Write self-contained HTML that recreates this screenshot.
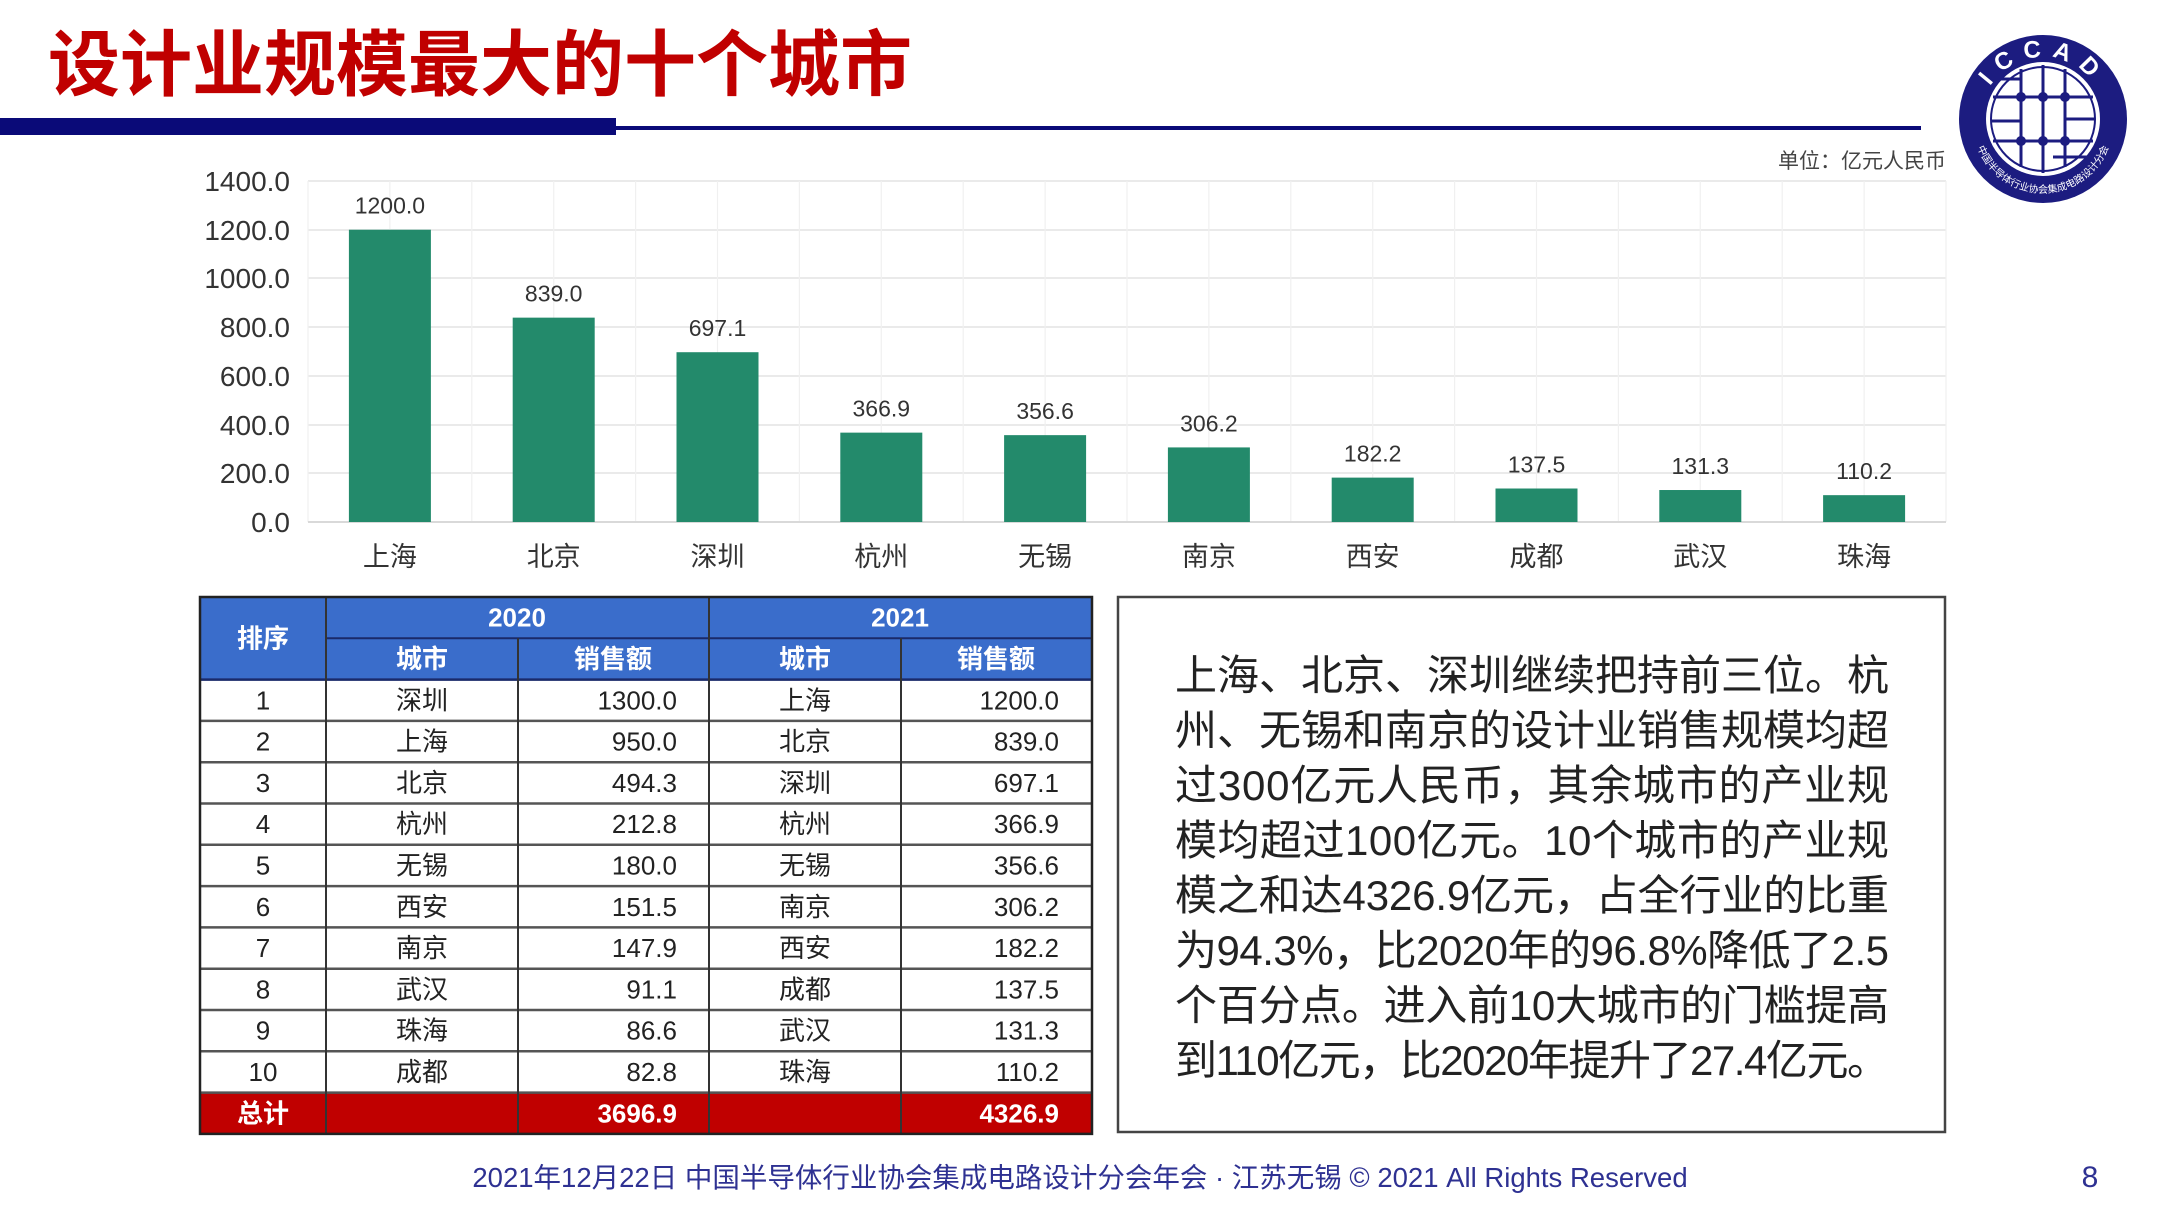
<!DOCTYPE html>
<html><head><meta charset="utf-8"><style>
html,body{margin:0;padding:0;background:#fff;}
svg{display:block;}
text{font-family:"Liberation Sans","Noto Sans CJK SC",sans-serif;}
</style></head><body>
<svg width="2160" height="1216" viewBox="0 0 2160 1216" xmlns="http://www.w3.org/2000/svg">
<text x="48" y="90" font-size="72" font-weight="bold" fill="#c00000" font-family="Noto Sans CJK SC,sans-serif">设计业规模最大的十个城市</text>
<rect x="0" y="118" width="616" height="17" fill="#0a0a78"/>
<rect x="616" y="126" width="1305" height="4" fill="#0a0a78"/>
<g transform="translate(2043,119)">
<circle r="84" fill="#1c1c80"/>
<circle r="57" fill="#fff"/>
<circle r="52" fill="none" stroke="#1c1c80" stroke-width="2"/>
<defs><path id="arcTop" d="M -62 0 A 62 62 0 0 1 62 0"/><path id="arcBot" d="M -70 4 A 70 70 0 0 0 70 4"/></defs>
<text font-size="24" fill="#fff" font-weight="bold" letter-spacing="10"><textPath href="#arcTop" startOffset="50%" text-anchor="middle">ICCAD</textPath></text>
<text font-size="10" fill="#fff" font-family="Noto Sans CJK SC,sans-serif"><textPath href="#arcBot" startOffset="50%" text-anchor="middle">中国半导体行业协会集成电路设计分会</textPath></text>
<g stroke="#1c1c80" stroke-width="3">
<line x1="-22" y1="-50" x2="-22" y2="48"/><line x1="0" y1="-54" x2="0" y2="54"/><line x1="22" y1="-50" x2="22" y2="48"/>
<line x1="-50" y1="-22" x2="50" y2="-22"/><line x1="-50" y1="22" x2="50" y2="22"/>
<line x1="-48" y1="-40" x2="-22" y2="-40"/><line x1="22" y1="0" x2="52" y2="0"/><line x1="-52" y1="2" x2="-22" y2="2"/><line x1="10" y1="38" x2="44" y2="38"/>
</g>
<g fill="#1c1c80"><circle cx="-22" cy="-22" r="5"/><circle cx="0" cy="-22" r="5"/><circle cx="22" cy="-22" r="5"/><circle cx="-22" cy="22" r="5"/><circle cx="0" cy="22" r="5"/><circle cx="22" cy="22" r="5"/></g>
</g>
<text x="1946" y="168" font-size="21" fill="#444" text-anchor="end" font-family="Noto Sans CJK SC,sans-serif">单位：亿元人民币</text>
<g stroke="#e4e4e4" stroke-width="1.5">
<line x1="308" y1="181" x2="1946" y2="181"/><line x1="308" y1="230" x2="1946" y2="230"/><line x1="308" y1="278" x2="1946" y2="278"/><line x1="308" y1="327" x2="1946" y2="327"/><line x1="308" y1="376" x2="1946" y2="376"/><line x1="308" y1="425" x2="1946" y2="425"/><line x1="308" y1="473" x2="1946" y2="473"/>
</g>
<g stroke="#f0f0f0" stroke-width="1.2" id="vg"></g>
<line x1="308" y1="522" x2="1946" y2="522" stroke="#d9d9d9" stroke-width="2"/>
<g font-size="28" fill="#333" text-anchor="end">
<text x="290" y="191">1400.0</text><text x="290" y="240">1200.0</text><text x="290" y="288">1000.0</text><text x="290" y="337">800.0</text><text x="290" y="386">600.0</text><text x="290" y="435">400.0</text><text x="290" y="483">200.0</text><text x="290" y="532">0.0</text>
</g>
<g id="bars"></g>
<g id="tbl"></g>
<rect x="1118" y="597" width="827" height="535" fill="none" stroke="#444" stroke-width="2.5"/>
<g font-size="42" fill="#222" font-family="Noto Sans CJK SC,sans-serif">
<text x="1175" y="690">上海、北京、深圳继续把持前三位。杭</text>
<text x="1175" y="745" textLength="714">州、无锡和南京的设计业销售规模均超</text>
<text x="1175" y="800" textLength="714">过300亿元人民币，其余城市的产业规</text>
<text x="1175" y="855" textLength="714">模均超过100亿元。10个城市的产业规</text>
<text x="1175" y="910" textLength="714">模之和达4326.9亿元，占全行业的比重</text>
<text x="1175" y="965" textLength="714">为94.3%，比2020年的96.8%降低了2.5</text>
<text x="1175" y="1020" textLength="714">个百分点。进入前10大城市的门槛提高</text>
<text x="1175" y="1075" textLength="714">到110亿元，比2020年提升了27.4亿元。</text>
</g>
<text x="1080" y="1187" font-size="27.5" fill="#2e3192" text-anchor="middle" font-family="Noto Sans CJK SC,sans-serif">2021年12月22日 中国半导体行业协会集成电路设计分会年会 · 江苏无锡 © 2021 All Rights Reserved</text>
<text x="2090" y="1187" font-size="30" fill="#2e3192" text-anchor="middle">8</text>
</svg>
<script>
(function(){
var NS="http://www.w3.org/2000/svg";
function el(p,t,a,txt){var e=document.createElementNS(NS,t);for(var k in a)e.setAttribute(k,a[k]);if(txt!==undefined)e.textContent=txt;p.appendChild(e);return e;}
var vg=document.getElementById('vg');
for(var i=0;i<=20;i++){var x=308+163.8*i/2;el(vg,'line',{x1:x,y1:181,x2:x,y2:522});}
var cities=["上海","北京","深圳","杭州","无锡","南京","西安","成都","武汉","珠海"];
var vals=[1200.0,839.0,697.1,366.9,356.6,306.2,182.2,137.5,131.3,110.2];
var b=document.getElementById('bars');
for(var i=0;i<10;i++){var cx=308+163.8*(i+0.5);var h=vals[i]*341/1400;
el(b,'rect',{x:cx-41,y:522-h,width:82,height:h,fill:'#238a6b'});
el(b,'text',{x:cx,y:522-h-16,'font-size':23,fill:'#333','text-anchor':'middle'},vals[i].toFixed(1));
el(b,'text',{x:cx,y:566,'font-size':27,fill:'#333','text-anchor':'middle','font-family':'Noto Sans CJK SC,sans-serif'},cities[i]);}
var t=document.getElementById('tbl');
var y0=597,rh=41.3;
var d=[["1","深圳","1300.0","上海","1200.0"],["2","上海","950.0","北京","839.0"],["3","北京","494.3","深圳","697.1"],["4","杭州","212.8","杭州","366.9"],["5","无锡","180.0","无锡","356.6"],["6","西安","151.5","南京","306.2"],["7","南京","147.9","西安","182.2"],["8","武汉","91.1","成都","137.5"],["9","珠海","86.6","武汉","131.3"],["10","成都","82.8","珠海","110.2"]];
el(t,'rect',{x:200,y:y0,width:892,height:rh*2,fill:'#3a6dcb'});
el(t,'rect',{x:200,y:y0+rh*12,width:892,height:rh,fill:'#c00000'});
var F='Noto Sans CJK SC,sans-serif';
function tx(x,y,s,anchor,col,bold){el(t,'text',{x:x,y:y,'font-size':26,fill:col,'text-anchor':anchor,'font-weight':bold?'bold':'normal','font-family':F},s);}
tx(263,y0+rh+9,"排序","middle","#fff",1);
tx(517,y0+rh*0.5+9,"2020","middle","#fff",1);tx(900,y0+rh*0.5+9,"2021","middle","#fff",1);
tx(422,y0+rh*1.5+9,"城市","middle","#fff",1);tx(613,y0+rh*1.5+9,"销售额","middle","#fff",1);
tx(805,y0+rh*1.5+9,"城市","middle","#fff",1);tx(996,y0+rh*1.5+9,"销售额","middle","#fff",1);
for(var r=0;r<10;r++){var yy=y0+rh*(r+2.5)+9;var row=d[r];
tx(263,yy,row[0],"middle","#222");tx(422,yy,row[1],"middle","#222");tx(677,yy,row[2],"end","#222");
tx(805,yy,row[3],"middle","#222");tx(1059,yy,row[4],"end","#222");}
var yy=y0+rh*12.5+9;tx(263,yy,"总计","middle","#fff",1);tx(677,yy,"3696.9","end","#fff",1);tx(1059,yy,"4326.9","end","#fff",1);
for(var r=2;r<=12;r++){el(t,'line',{x1:200,y1:y0+rh*r,x2:1092,y2:y0+rh*r,stroke:r==2?'#1a2a6a':'#555','stroke-width':2.5});}
el(t,'line',{x1:326,y1:y0+rh,x2:1092,y2:y0+rh,stroke:'#1a2a6a','stroke-width':2});
el(t,'line',{x1:709,y1:y0,x2:709,y2:y0+rh*13,stroke:'#333','stroke-width':2});
[326,518,901].forEach(function(x){el(t,'line',{x1:x,y1:x==326?y0:y0+rh,x2:x,y2:y0+rh*13,stroke:'#333','stroke-width':2});});
el(t,'rect',{x:200,y:y0,width:892,height:rh*13,fill:'none',stroke:'#222','stroke-width':2.5});
})();
</script>
</body></html>
